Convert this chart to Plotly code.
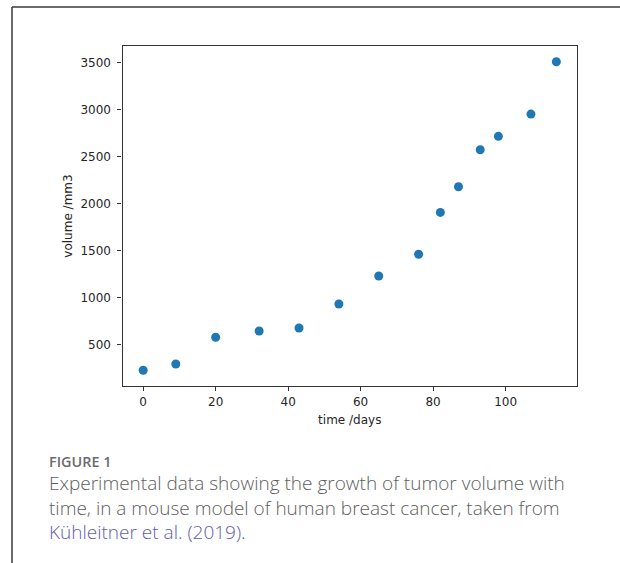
import plotly.graph_objects as go

# Data
time_days = [0, 9, 20, 32, 43, 54, 65, 76, 82, 87, 93, 98, 107, 114]
volume_mm3 = [228, 295, 579, 646, 678, 933, 1231, 1463, 1908, 2181, 2574, 2717, 2954, 3511]
x_ticks = [0, 20, 40, 60, 80, 100]
y_ticks = [500, 1000, 1500, 2000, 2500, 3000, 3500]

W, H = 620, 563
left, right, top, bottom = 122.5, 577, 46.3, 385.7

fig = go.Figure()
fig.add_trace(go.Scatter(
    x=time_days, y=volume_mm3, mode="markers",
    marker=dict(color="#1f77b4", size=9, line=dict(width=0)),
    showlegend=False, hoverinfo="x+y",
))

axis_common = dict(
    showgrid=False, zeroline=False, showline=True, mirror=True,
    linecolor="#333333", linewidth=1.2, ticks="outside", ticklen=4,
    tickwidth=1, tickcolor="#333333",
    tickfont=dict(family="DejaVu Sans", size=12, color="#262626"),
)

xmin, xmax = min(time_days), max(time_days)
ymin, ymax = min(volume_mm3), max(volume_mm3)
xpad = 0.05 * (xmax - xmin)
ypad = 0.05 * (ymax - ymin)

fig.update_layout(
    width=W, height=H,
    margin=dict(l=0, r=0, t=0, b=0),
    paper_bgcolor="white", plot_bgcolor="white",
    xaxis=dict(
        **axis_common,
        domain=[left / W, right / W],
        range=[xmin - xpad, xmax + xpad],
        tickvals=x_ticks,
        ticklabelstandoff=1,
        title=dict(text="time /days", font=dict(family="DejaVu Sans", size=12, color="#262626"), standoff=7),
    ),
    yaxis=dict(
        **axis_common,
        domain=[1 - bottom / H, 1 - top / H],
        range=[ymin - ypad, ymax + ypad],
        tickvals=y_ticks,
        ticklabelstandoff=4,
        title=dict(text="volume /mm3", font=dict(family="DejaVu Sans", size=12, color="#262626"), standoff=5),
    ),
)

# outer frame (left and top border)
fig.add_shape(type="line", xref="paper", yref="paper",
              x0=12 / W, x1=12 / W, y0=0, y1=1 - 7 / H,
              line=dict(color="#3a3a3a", width=1.5))
fig.add_shape(type="line", xref="paper", yref="paper",
              x0=12 / W, x1=1, y0=1 - 7 / H, y1=1 - 7 / H,
              line=dict(color="#3a3a3a", width=1.5))

fig.add_annotation(text="FIGURE 1", xref="paper", yref="paper",
                   x=46.5 / W, y=1 - 461 / H, xanchor="left", yanchor="middle",
                   showarrow=False, font=dict(family="Open Sans", size=14.4, color="#6b6b6b", weight=600))
caption_lines = [
    "Experimental data showing the growth of tumor volume with",
    "time, in a mouse model of human breast cancer, taken from",
    '<span style="color:#5f5cb0">Kühleitner et al. (2019)</span>.',
]
fig.add_annotation(text="<br>".join(caption_lines), xref="paper", yref="paper",
                   x=46.5 / W, y=1 - 507.7 / H, xanchor="left", yanchor="middle",
                   align="left", showarrow=False,
                   font=dict(family="Open Sans", size=19, color="#5e5e5e", weight=300))

fig.write_html("out.html")
